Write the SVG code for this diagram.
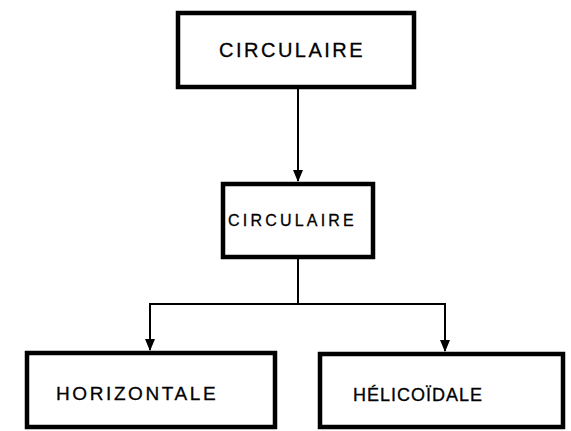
<svg xmlns="http://www.w3.org/2000/svg" width="571" height="431" viewBox="0 0 571 431">
<style>
.box{fill:#fff;stroke:#000;stroke-width:4.5}
.lbl{font-family:"Liberation Sans",Arial,sans-serif;fill:#000;stroke:#000;stroke-width:0.3}
.con{fill:none;stroke:#000;stroke-width:2}
</style>
<defs>
<marker id="ah" markerWidth="12" markerHeight="12" refX="11" refY="6" orient="auto" markerUnits="userSpaceOnUse">
<path d="M0,1 L12,6 L0,11 Z" fill="#000"/>
</marker>
</defs>
<rect width="571" height="431" fill="#fff"/>
<g id="connectors">
<line class="con" x1="298" y1="88" x2="298" y2="181" marker-end="url(#ah)"/>
<polyline class="con" points="298,257 298,304 150,304 150,350" marker-end="url(#ah)"/>
<polyline class="con" points="298,304 445,304 445,351" marker-end="url(#ah)"/>
</g>
<g id="n1">
<rect class="box" x="178" y="13" width="236" height="74"/>
<text class="lbl" x="219" y="57" font-size="20" letter-spacing="2.5">CIRCULAIRE</text>
</g>
<g id="n2">
<rect class="box" x="223" y="184" width="150" height="73"/>
<text class="lbl" x="228" y="226" font-size="16" letter-spacing="3.2">CIRCULAIRE</text>
</g>
<g id="n3">
<rect class="box" x="27" y="353" width="248" height="74"/>
<text class="lbl" x="56" y="400" font-size="19" letter-spacing="2.6">HORIZONTALE</text>
</g>
<g id="n4">
<rect class="box" x="320" y="354" width="243" height="73"/>
<text class="lbl" x="353" y="401" font-size="18" letter-spacing="1">HÉLICOÏDALE</text>
</g>
</svg>
